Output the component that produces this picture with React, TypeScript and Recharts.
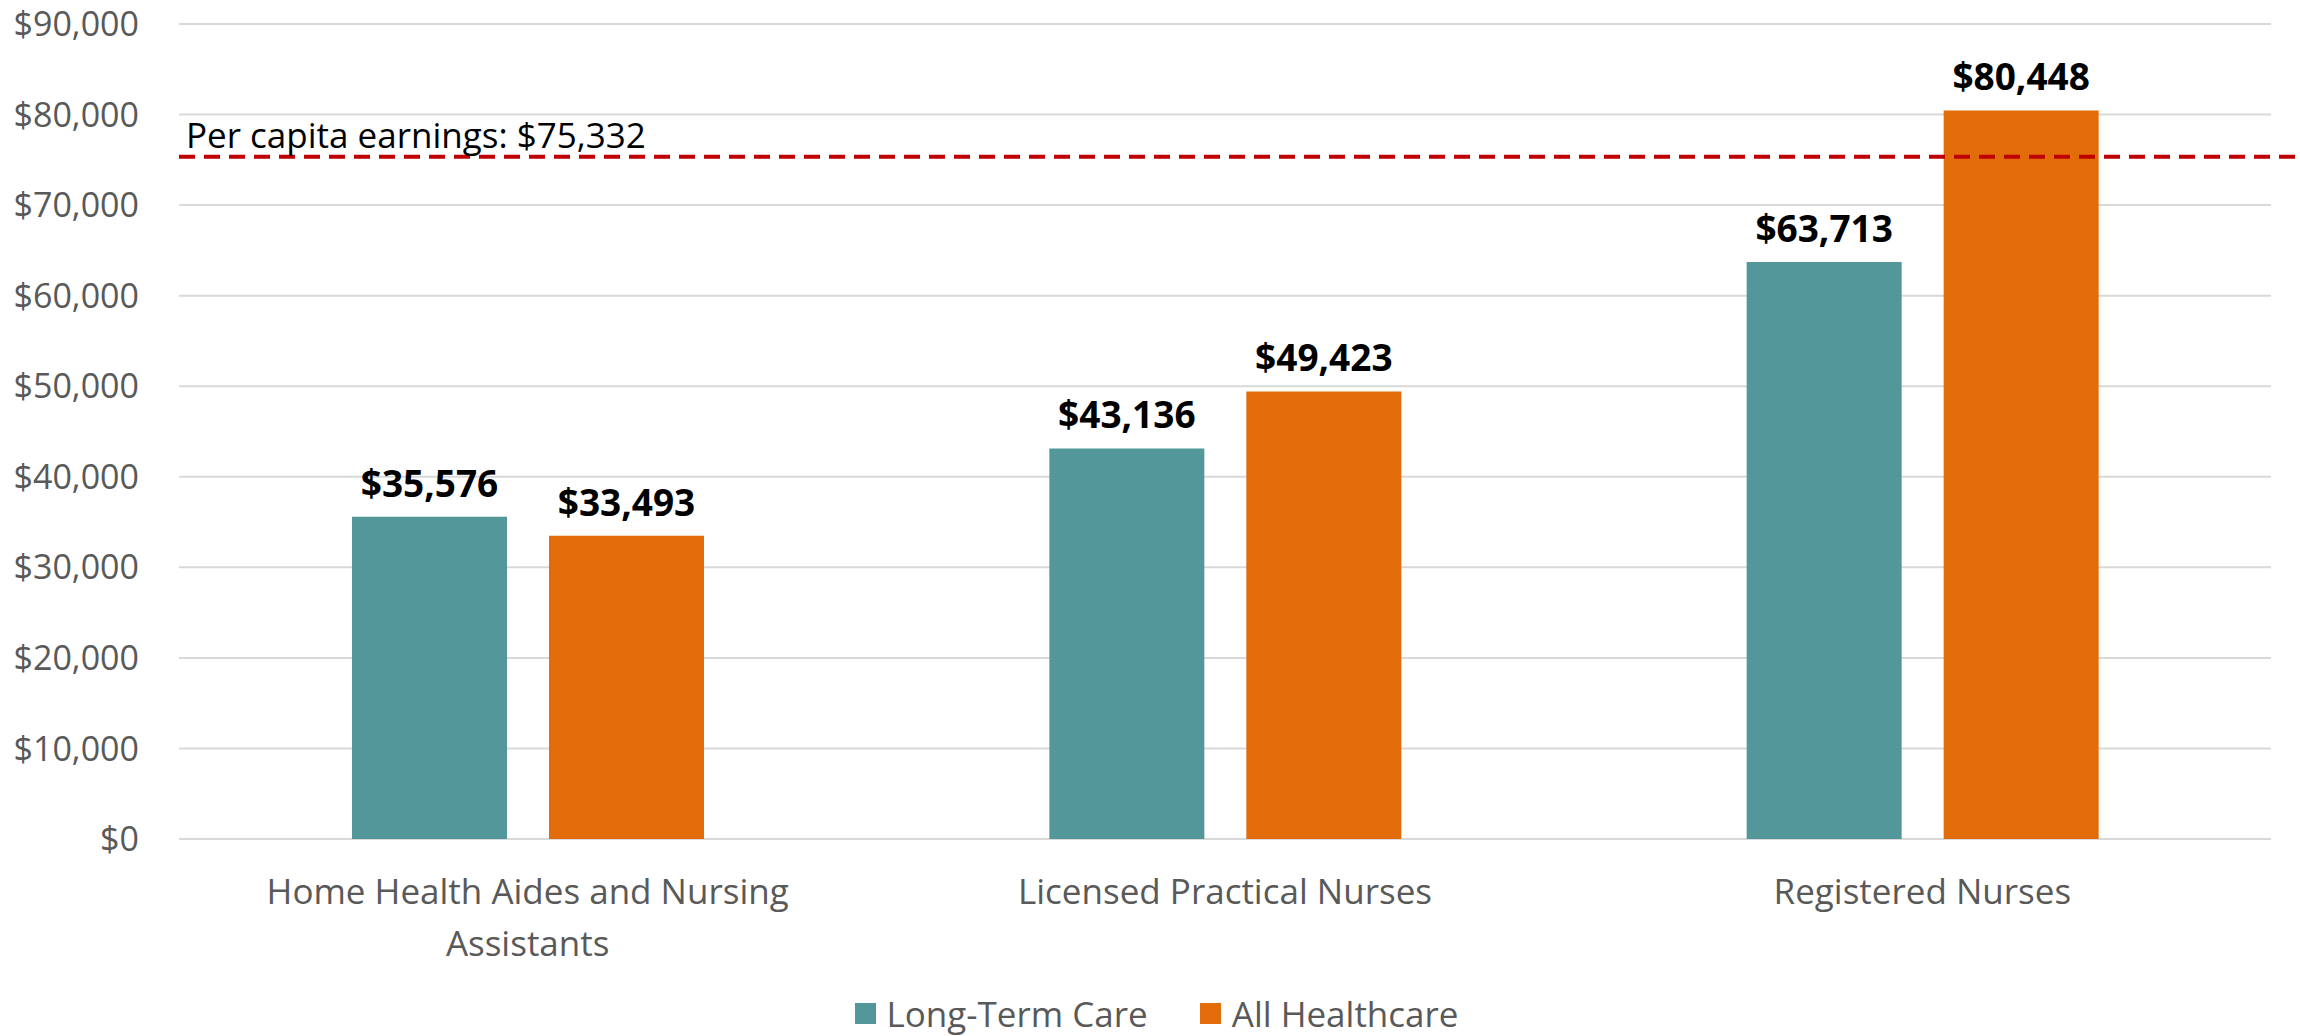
import React from "react";
import {
  BarChart,
  Bar,
  XAxis,
  YAxis,
  CartesianGrid,
  ReferenceLine,
  Legend,
  LabelList,
} from "recharts";

const categories = [
  "Home Health Aides and Nursing Assistants",
  "Licensed Practical Nurses",
  "Registered Nurses",
];
const longTermCare = [35576, 43136, 63713];
const allHealthcare = [33493, 49423, 80448];
const yTicks = [0, 10000, 20000, 30000, 40000, 50000, 60000, 70000, 80000, 90000];
const perCapitaEarnings = 75332;
const seriesNames = ["Long-Term Care", "All Healthcare"];

const data = categories.map((category, i) => ({
  category,
  ltc: longTermCare[i],
  all: allHealthcare[i],
}));

const FONT = "'Open Sans', 'Noto Sans', sans-serif";
const TEAL = "#53979A";
const ORANGE = "#E36C0A";
const GREY_TEXT = "#595959";

const money = (v: number) => "$" + v.toLocaleString("en-US");

// break a label into lines of at most maxChars characters
const wrap = (s: string, maxChars: number) => {
  const lines: string[] = [];
  let cur = "";
  s.split(" ").forEach((w) => {
    const next = cur ? cur + " " + w : w;
    if (next.length > maxChars && cur) {
      lines.push(cur);
      cur = w;
    } else {
      cur = next;
    }
  });
  if (cur) lines.push(cur);
  return lines;
};

const CategoryTick = (props: any) => {
  const { x, y, payload } = props;
  const lines = wrap(payload.value, 30);
  return (
    <text
      x={x}
      y={y + 57}
      textAnchor="middle"
      fill={GREY_TEXT}
      fontSize={35}
      fontFamily={FONT}
    >
      {lines.map((l, i) => (
        <tspan key={i} x={x} dy={i === 0 ? 0 : 52}>
          {l}
        </tspan>
      ))}
    </text>
  );
};

const LegendContent = (props: any) => {
  const { payload } = props;
  const items = [...payload].sort(
    (a: any, b: any) => seriesNames.indexOf(a.value) - seriesNames.indexOf(b.value)
  );
  return (
    <div
      style={{
        display: "flex",
        justifyContent: "center",
        alignItems: "center",
        gap: 52,
        paddingLeft: 42,
        fontFamily: FONT,
        fontSize: 35,
        color: GREY_TEXT,
      }}
    >
      {items.map((entry: any) => (
        <div key={entry.value} style={{ display: "flex", alignItems: "center" }}>
          <div style={{ width: 21, height: 21, background: entry.color, marginRight: 11 }} />
          <span>{entry.value}</span>
        </div>
      ))}
    </div>
  );
};

export default function App() {
  return (
    <div style={{ position: "absolute", left: 0, top: 0, background: "#fff" }}>
      <BarChart
        width={2300}
        height={1036}
        data={data}
        margin={{ top: 24, right: 29, left: 0, bottom: 0 }}
        barSize={155}
        barGap={42}
      >
        <CartesianGrid vertical={false} stroke="#D9D9D9" strokeWidth={2} />
        <XAxis
          dataKey="category"
          axisLine={false}
          tickLine={false}
          height={151}
          interval={0}
          tick={<CategoryTick />}
        />
        <YAxis
          width={179}
          domain={[0, 90000]}
          ticks={yTicks}
          axisLine={false}
          tickLine={false}
          tickSize={0}
          tickMargin={40}
          tickFormatter={money}
          tick={{ fill: GREY_TEXT, fontSize: 34, fontFamily: FONT }}
        />
        <Legend
          verticalAlign="bottom"
          wrapperStyle={{ height: 46 }}
          content={<LegendContent />}
        />
        <Bar dataKey="ltc" name={seriesNames[0]} fill={TEAL} isAnimationActive={false}>
          <LabelList
            dataKey="ltc"
            position="top"
            offset={20}
            formatter={(v: any) => money(Number(v))}
            style={{ fill: "#000", fontSize: 37, fontWeight: 700, fontFamily: FONT }}
          />
        </Bar>
        <Bar dataKey="all" name={seriesNames[1]} fill={ORANGE} isAnimationActive={false}>
          <LabelList
            dataKey="all"
            position="top"
            offset={20}
            formatter={(v: any) => money(Number(v))}
            style={{ fill: "#000", fontSize: 37, fontWeight: 700, fontFamily: FONT }}
          />
        </Bar>
        <ReferenceLine
          y={perCapitaEarnings}
          stroke="#C00000"
          strokeWidth={4}
          strokeDasharray="16 9"
          shape={(p: any) => (
            <line
              x1={p.x1}
              y1={p.y1}
              x2={p.x2 + 29}
              y2={p.y2}
              stroke="#C00000"
              strokeWidth={4}
              strokeDasharray="16 9"
            />
          )}
          label={(p: any) => (
            <text
              x={p.viewBox.x + 7}
              y={p.viewBox.y - 9}
              fill="#000"
              fontSize={35}
              fontFamily={FONT}
            >
              {"Per capita earnings: " + money(perCapitaEarnings)}
            </text>
          )}
        />
      </BarChart>
    </div>
  );
}
